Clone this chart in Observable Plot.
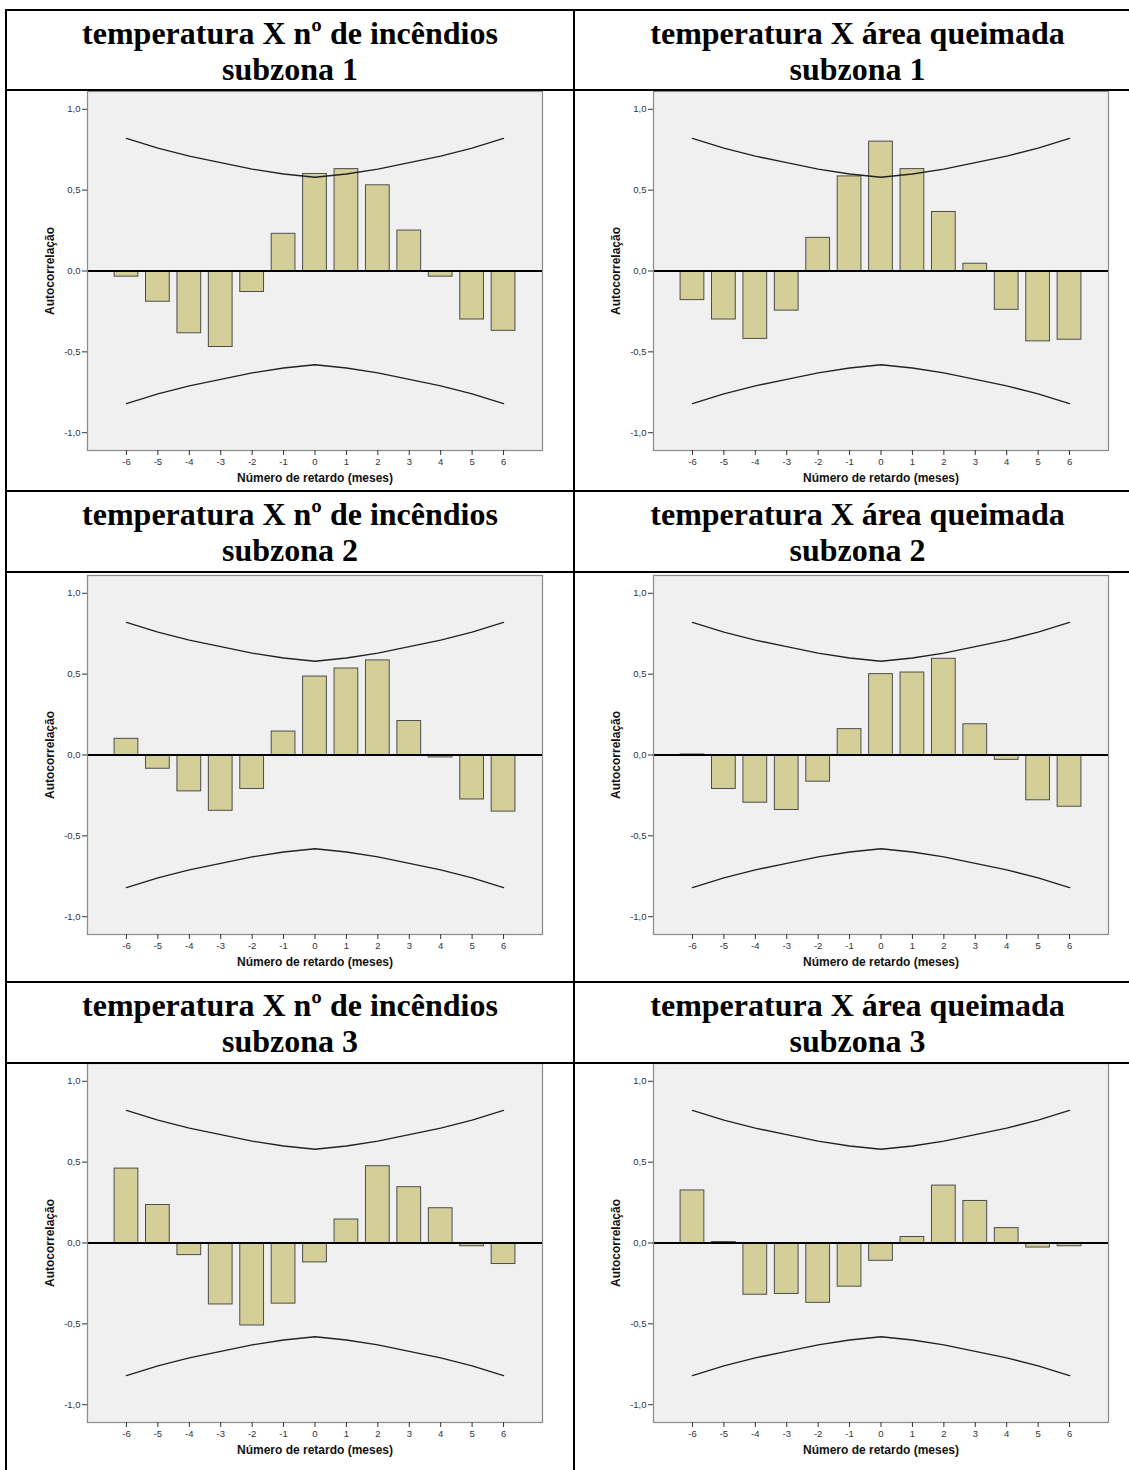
<!DOCTYPE html>
<html>
<head>
<meta charset="utf-8">
<script src="https://cdn.jsdelivr.net/npm/d3@7"></script>
<script src="https://cdn.jsdelivr.net/npm/@observablehq/plot@0.6"></script>
<style>
  html, body { margin: 0; padding: 0; background: #fff; }
  #page { position: relative; width: 1129px; height: 1470px; overflow: hidden; background: #fff; }
  .title { position: absolute; text-align: center; font-family: "Liberation Serif", "Times New Roman", serif;
           font-weight: bold; font-size: 32px; line-height: 36px; color: #000; }
  .chart { position: absolute; }
  .hline { position: absolute; height: 2px; background: #000; z-index: 5; }
  .vline { position: absolute; width: 2px; background: #000; z-index: 5; }
</style>
</head>
<body>
<div id="page"></div>
<script>
// ---------- data ----------
const lags = [-6, -5, -4, -3, -2, -1, 0, 1, 2, 3, 4, 5, 6];
const upperLimit = [0.82, 0.76, 0.71, 0.67, 0.63, 0.60, 0.58, 0.60, 0.63, 0.67, 0.71, 0.76, 0.82];
const lowerLimit = [-0.82, -0.76, -0.71, -0.67, -0.63, -0.60, -0.58, -0.60, -0.63, -0.67, -0.71, -0.76, -0.82];

const incendiosSubzona1 = [-0.035, -0.19, -0.385, -0.47, -0.13, 0.23, 0.60, 0.63, 0.53, 0.25, -0.035, -0.30, -0.37];
const areaSubzona1      = [-0.18, -0.30, -0.42, -0.245, 0.205, 0.585, 0.80, 0.63, 0.365, 0.045, -0.24, -0.435, -0.425];
const incendiosSubzona2 = [0.10, -0.085, -0.225, -0.345, -0.21, 0.145, 0.485, 0.535, 0.585, 0.21, -0.015, -0.275, -0.35];
const areaSubzona2      = [0.003, -0.21, -0.295, -0.34, -0.165, 0.16, 0.50, 0.51, 0.595, 0.19, -0.03, -0.28, -0.32];
const incendiosSubzona3 = [0.46, 0.235, -0.075, -0.38, -0.51, -0.375, -0.12, 0.145, 0.475, 0.345, 0.215, -0.02, -0.13];
const areaSubzona3      = [0.325, 0.006, -0.32, -0.315, -0.37, -0.27, -0.11, 0.037, 0.355, 0.26, 0.092, -0.028, -0.02];

const yTicks = [-1, -0.5, 0, 0.5, 1];
const yTickLabels = ["-1,0", "-0,5", "0,0", "0,5", "1,0"];
const xTickLabels = ["-6", "-5", "-4", "-3", "-2", "-1", "0", "1", "2", "3", "4", "5", "6"];

const titleLeft = "temperatura X nº de incêndios";
const titleRight = "temperatura X área queimada";
const subzonas = ["subzona 1", "subzona 2", "subzona 3"];
const yLabel = "Autocorrelação";
const xLabel = "Número de retardo (meses)";

// ---------- layout ----------
const page = document.getElementById("page");
const colLeft = [7, 573];     // cell x ranges
const colRight = [575, 1140];
const rowLines = [10, 90, 491, 572, 982, 1063];
const frameLeftX = [87, 653];
const frameTopY = [91, 575, 1063];
const M = {left: 80, right: 10, top: 10, bottom: 45};
const FW = 455, FH = 359;
const halfBar = 0.378;

function chart(values) {
  const rows = lags.map((lag, i) => ({lag, r: values[i], upper: upperLimit[i], lower: lowerLimit[i]}));
  return Plot.plot({
    width: FW + M.left + M.right,
    height: FH + M.top + M.bottom,
    marginLeft: M.left, marginRight: M.right, marginTop: M.top, marginBottom: M.bottom,
    x: {domain: [-7.24, 7.24]},
    y: {domain: [-1.11, 1.11]},
    style: {background: "transparent", overflow: "visible", fontFamily: "'Liberation Sans', Arial, sans-serif"},
    marks: [
      Plot.frame({fill: "#f0f0f0"}),
      Plot.rectY(rows, {x1: d => d.lag - halfBar, x2: d => d.lag + halfBar, y1: () => 0, y2: "r",
                        fill: "#d4cf98", stroke: "#4d4d4d", strokeWidth: 1}),
      Plot.ruleY([0], {stroke: "#000", strokeWidth: 2}),
      Plot.line(rows, {x: "lag", y: "upper", stroke: "#222", strokeWidth: 1.4}),
      Plot.line(rows, {x: "lag", y: "lower", stroke: "#222", strokeWidth: 1.4}),
      Plot.frame({stroke: "#8a8a8a", strokeWidth: 1.2}),
      Plot.axisY({ticks: yTicks, tickFormat: d => yTickLabels[yTicks.indexOf(d)], tickSize: 5, tickPadding: 2,
                  fontSize: 9.5, label: null, color: "#333"}),
      Plot.axisX({ticks: lags, tickFormat: d => xTickLabels[lags.indexOf(d)], tickSize: 5, tickPadding: 3,
                  fontSize: 9.5, label: null, color: "#333"}),
      Plot.text([yLabel], {text: d => d, frameAnchor: "left", dx: -37, rotate: -90, textAnchor: "middle",
                           fontWeight: "bold", fontSize: 12, fill: "#111"}),
      Plot.text([xLabel], {text: d => d, frameAnchor: "bottom", dy: 31, textAnchor: "middle",
                           fontWeight: "bold", fontSize: 12, fill: "#111"})
    ]
  });
}

const series = [
  [incendiosSubzona1, areaSubzona1],
  [incendiosSubzona2, areaSubzona2],
  [incendiosSubzona3, areaSubzona3]
];

series.forEach((pair, r) => {
  const titleTop = rowLines[r * 2] + 5;
  [[colLeft, titleLeft], [colRight, titleRight]].forEach(([col, t]) => {
    const d = document.createElement("div");
    d.className = "title";
    d.style.left = col[0] + "px";
    d.style.width = (col[1] - col[0]) + "px";
    d.style.top = titleTop + "px";
    d.appendChild(document.createTextNode(t));
    d.appendChild(document.createElement("br"));
    d.appendChild(document.createTextNode(subzonas[r]));
    page.appendChild(d);
  });
  pair.forEach((vals, c) => {
    const holder = document.createElement("div");
    holder.className = "chart";
    holder.style.left = (frameLeftX[c] - M.left) + "px";
    holder.style.top = (frameTopY[r] - M.top) + "px";
    holder.appendChild(chart(vals));
    page.appendChild(holder);
  });
});

// table lines
rowLines.forEach(y => {
  const h = document.createElement("div");
  h.className = "hline";
  h.style.left = "5px"; h.style.width = "1130px"; h.style.top = (y - 1) + "px";
  page.appendChild(h);
});
[6, 574].forEach(x => {
  const v = document.createElement("div");
  v.className = "vline";
  v.style.left = (x - 1) + "px"; v.style.top = "9px"; v.style.height = "1470px";
  page.appendChild(v);
});
</script>
</body>
</html>
